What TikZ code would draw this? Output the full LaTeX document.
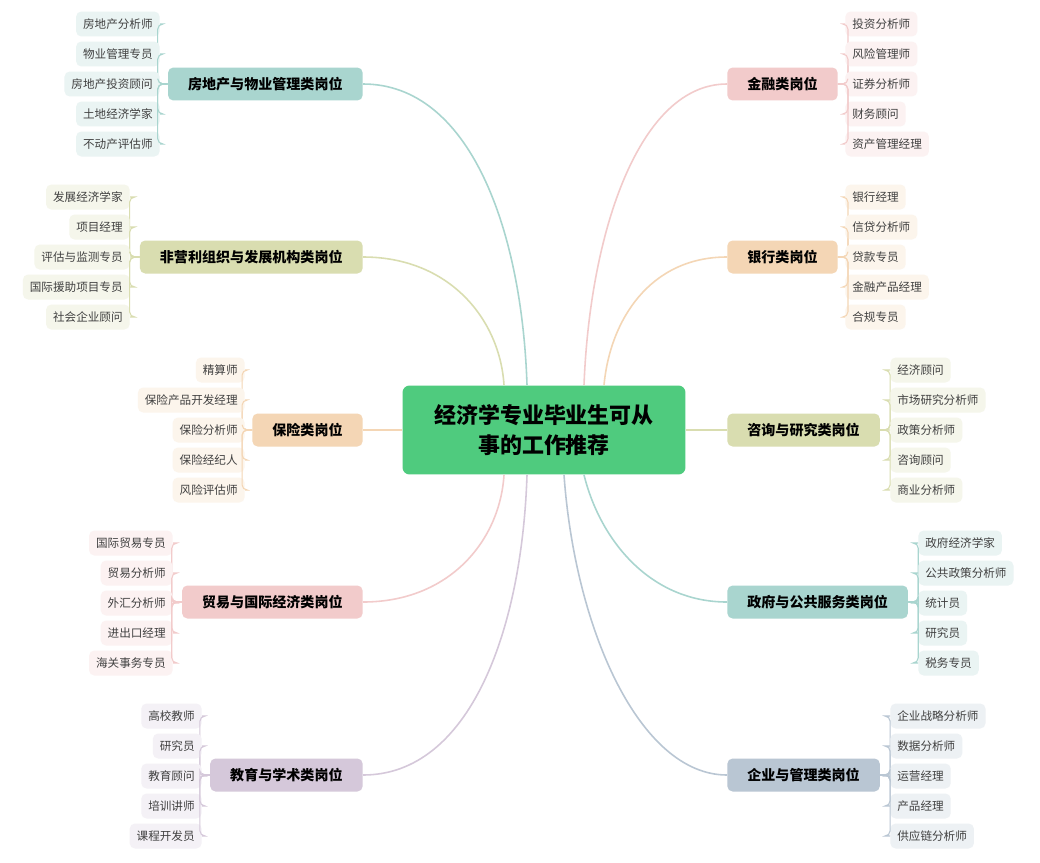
\documentclass[tikz,border=0pt]{standalone}
\usepackage{fontspec}
\setmainfont{Noto Sans CJK SC}
\usetikzlibrary{positioning,calc}

\definecolor{cTeal}{HTML}{A9D5CF}
\definecolor{cOlive}{HTML}{D9DDB0}
\definecolor{cPeach}{HTML}{F4D6B5}
\definecolor{cPink}{HTML}{F2CBCB}
\definecolor{cLav}{HTML}{D5C8DA}
\definecolor{cBlue}{HTML}{B9C6D3}
\definecolor{cMain}{HTML}{4FCB7E}

\tikzset{
  main/.style={draw=none, fill=cMain, rounded corners=4pt, minimum width=5.66cm, minimum height=1.78cm, align=center, font=\fontsize{12.5}{17}\selectfont\bfseries},
  cat/.style={rounded corners=3pt, minimum height=0.66cm, inner xsep=0.4cm, font=\fontsize{8}{10}\selectfont\bfseries},
  leaf/.style={fill=#1!25, rounded corners=3pt, minimum height=0.5cm, inner xsep=0.14cm, text=black!75, font=\fontsize{6.6}{8}\selectfont},
  link/.style={line width=0.9pt, #1},
  twig/.style={line width=0.6pt, #1, rounded corners=3pt}
}

\begin{document}
\begin{tikzpicture}[x=0.02cm, y=-0.02cm]
  \useasboundingbox[fill=white] (0,0) rectangle (1040,862);

  % centre
  \node [main] (Root) at (544,430) {经济学专业毕业生可从\\事的工作推荐};

  % left categories
  \node [cat, fill=cTeal, anchor=east] (RealEst) at (363,84) {房地产与物业管理类岗位};
  \node [cat, fill=cOlive, anchor=east] (NonProf) at (363,257) {非营利组织与发展机构类岗位};
  \node [cat, fill=cPeach, anchor=east] (Insur) at (363,430) {保险类岗位};
  \node [cat, fill=cPink, anchor=east] (Trade) at (363,602) {贸易与国际经济类岗位};
  \node [cat, fill=cLav, anchor=east] (Edu) at (363,775) {教育与学术类岗位};

  % right categories
  \node [cat, fill=cPink, anchor=west] (Fin) at (727,84) {金融类岗位};
  \node [cat, fill=cPeach, anchor=west] (Bank) at (727,257) {银行类岗位};
  \node [cat, fill=cOlive, anchor=west] (Consult) at (727,430) {咨询与研究类岗位};
  \node [cat, fill=cTeal, anchor=west] (Gov) at (727,602) {政府与公共服务类岗位};
  \node [cat, fill=cBlue, anchor=west] (Corp) at (727,775) {企业与管理类岗位};

  % links to the centre
  \draw [link=cTeal] (RealEst.east) .. controls (470,84) and (522,230) .. ($(Root.north)+(-17,0)$);
  \draw [link=cOlive] (NonProf.east) .. controls (450,257) and (500,320) .. ($(Root.north)+(-40,0)$);
  \draw [link=cPeach] (Insur.east) -- (Root.west);
  \draw [link=cPink] (Trade.east) .. controls (450,602) and (500,540) .. ($(Root.south)+(-40,0)$);
  \draw [link=cLav] (Edu.east) .. controls (470,775) and (522,630) .. ($(Root.south)+(-17,0)$);
  \draw [link=cPink] (Fin.west) .. controls (640,84) and (590,230) .. ($(Root.north)+(40,0)$);
  \draw [link=cPeach] (Bank.west) .. controls (650,257) and (610,320) .. ($(Root.north)+(60,0)$);
  \draw [link=cOlive] (Consult.west) -- (Root.east);
  \draw [link=cTeal] (Gov.west) .. controls (650,602) and (600,540) .. ($(Root.south)+(40,0)$);
  \draw [link=cBlue] (Corp.west) .. controls (640,775) and (575,630) .. ($(Root.south)+(20,0)$);

  % leaves, left side
  \foreach \cat/\col/\xr/\ytop/\names in {
      RealEst/cTeal/160/24/{房地产分析师,物业管理专员,房地产投资顾问,土地经济学家,不动产评估师},
      NonProf/cOlive/130/197/{发展经济学家,项目经理,评估与监测专员,国际援助项目专员,社会企业顾问},
      Insur/cPeach/245/370/{精算师,保险产品开发经理,保险分析师,保险经纪人,风险评估师},
      Trade/cPink/173/543/{国际贸易专员,贸易分析师,外汇分析师,进出口经理,海关事务专员},
      Edu/cLav/202/716/{高校教师,研究员,教育顾问,培训讲师,课程开发员}} {
    \foreach \t [count=\i] in \names {
      \node [leaf=\col, anchor=east] (\cat-\i) at (\xr,\ytop+30*\i-30) {\t};
      \draw [twig=\col] (\cat.west) -- ++(-10,0) |- (\cat-\i.east);
    }
  }

  % leaves, right side
  \foreach \cat/\col/\xl/\ytop/\names in {
      Fin/cPink/845/24/{投资分析师,风险管理师,证券分析师,财务顾问,资产管理经理},
      Bank/cPeach/845/197/{银行经理,信贷分析师,贷款专员,金融产品经理,合规专员},
      Consult/cOlive/890/370/{经济顾问,市场研究分析师,政策分析师,咨询顾问,商业分析师},
      Gov/cTeal/918/543/{政府经济学家,公共政策分析师,统计员,研究员,税务专员},
      Corp/cBlue/890/716/{企业战略分析师,数据分析师,运营经理,产品经理,供应链分析师}} {
    \foreach \t [count=\i] in \names {
      \node [leaf=\col, anchor=west] (\cat-\i) at (\xl,\ytop+30*\i-30) {\t};
      \draw [twig=\col] (\cat.east) -- ++(10,0) |- (\cat-\i.west);
    }
  }
\end{tikzpicture}
\end{document}
